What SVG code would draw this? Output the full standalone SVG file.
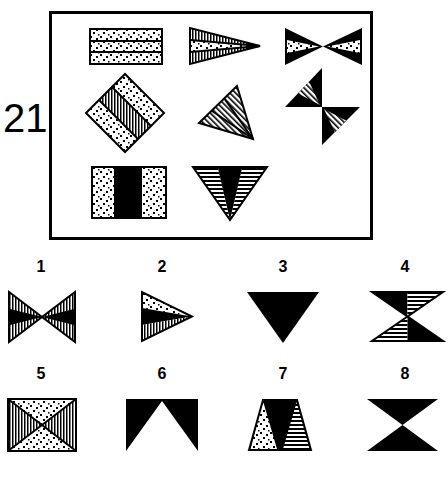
<svg xmlns="http://www.w3.org/2000/svg" width="448" height="480" viewBox="0 0 448 480">
<style>
.o{stroke:#000;stroke-width:2;stroke-linejoin:miter;fill:none}
.k{fill:#000}
.w{fill:#fff}
.d{fill:url(#dots)}
.v{fill:url(#vstr)}
.h{fill:url(#hstr)}
.g{fill:url(#dstr)}
.lbl{font-family:"Liberation Sans",Arial,sans-serif;font-weight:bold;font-size:16px;text-anchor:middle}
</style>
<defs>
<pattern id="dots" width="10" height="9" patternUnits="userSpaceOnUse">
<rect width="10" height="9" fill="#fff"/>
<rect x="0" y="0" width="2" height="2" fill="#000"/>
<rect x="6" y="2" width="2" height="2" fill="#000"/>
<rect x="3" y="5" width="2" height="2" fill="#000"/>
<rect x="8" y="7" width="1.5" height="1.5" fill="#000"/>
</pattern>
<pattern id="vstr" width="3" height="4" patternUnits="userSpaceOnUse">
<rect width="3" height="4" fill="#fff"/>
<rect x="0" y="0" width="1.5" height="4" fill="#000"/>
</pattern>
<pattern id="hstr" width="4" height="4" patternUnits="userSpaceOnUse">
<rect width="4" height="4" fill="#fff"/>
<rect x="0" y="0" width="4" height="2" fill="#000"/>
</pattern>
<pattern id="dstr" width="4" height="4" patternUnits="userSpaceOnUse" patternTransform="rotate(-45)">
<rect width="4" height="4" fill="#fff"/>
<rect x="0" y="0" width="1.6" height="4" fill="#000"/>
</pattern>
</defs>
<rect width="448" height="480" fill="#fff"/>

<g id="title">
<text x="3" y="132" font-family="'Liberation Sans',Arial,sans-serif" font-size="40">21</text>
</g>
<g id="frame">
<rect x="50.5" y="12.5" width="321" height="226" fill="none" stroke="#000" stroke-width="3"/>
</g>

<g id="m11">
<rect x="90" y="29" width="72" height="35" class="d"/>
<rect x="90" y="29" width="72" height="35" class="o"/>
<line x1="90" y1="41" x2="162" y2="41" class="o"/>
<line x1="90" y1="52" x2="162" y2="52" class="o"/>
</g>

<g id="m12">
<polygon points="190,28 190,40 260,46" class="v"/>
<polygon points="190,40 190,52 260,46" class="d"/>
<polygon points="190,52 190,64 260,46" class="v"/>
<polygon points="246,42 246,50 260,46" class="k"/>
<line x1="190" y1="40" x2="260" y2="46" class="o" stroke-width="1"/>
<line x1="190" y1="52" x2="260" y2="46" class="o" stroke-width="1"/>
<polygon points="190,28 190,64 260,46" class="o"/>
</g>

<g id="m13">
<polygon points="285,28 285,65 323,46.5" class="k"/>
<polygon points="362,28 362,65 323,46.5" class="k"/>
<polygon points="287,40 287,53 319,46.5" class="d"/>
<polygon points="360,40 360,53 327,46.5" class="d"/>
</g>

<g id="m21">
<polygon points="125,74 164,113 151,126 112,87" class="d"/>
<polygon points="112,87 151,126 138,139 99,100" class="v"/>
<polygon points="99,100 138,139 125,152 86,113" class="d"/>
<line x1="112" y1="87" x2="151" y2="126" class="o"/>
<line x1="99" y1="100" x2="138" y2="139" class="o"/>
<polygon points="125,74 164,113 125,152 86,113" class="o"/>
</g>

<g id="m22">
<polygon points="237,86 199,123 253,139" class="g"/>
<line x1="253" y1="139" x2="224.3" y2="98.3" class="o" stroke-width="1.5"/>
<line x1="253" y1="139" x2="211.7" y2="110.7" class="o" stroke-width="1.5"/>
<polygon points="237,86 199,123 253,139" class="o"/>
</g>

<g id="m23">
<polygon points="322,68 285,107 322,107" class="k"/>
<polygon points="322,107 360,107 322,145" class="k"/>
<polygon points="309,81.5 298,93.5 320,105" class="g"/>
<polygon points="346,120.5 335,132.5 324,109" class="g"/>
</g>

<g id="m31">
<rect x="92" y="167" width="22" height="51" class="d"/>
<rect x="114" y="167" width="28" height="51" class="k"/>
<rect x="142" y="167" width="24" height="51" class="d"/>
<rect x="92" y="167" width="74" height="51" class="o"/>
</g>

<g id="m32">
<polygon points="193,167 217.7,167 230,220" class="h"/>
<polygon points="242.3,167 267,167 230,220" class="h"/>
<polygon points="217.7,167 242.3,167 230,220" class="k"/>
<polygon points="193,167 267,167 230,220" class="o"/>
</g>

<g id="labels">
<text x="41" y="272" class="lbl">1</text>
<text x="162" y="272" class="lbl">2</text>
<text x="283" y="272" class="lbl">3</text>
<text x="405" y="272" class="lbl">4</text>
<text x="41" y="379" class="lbl">5</text>
<text x="162" y="379" class="lbl">6</text>
<text x="283" y="379" class="lbl">7</text>
<text x="405" y="379" class="lbl">8</text>
</g>

<g id="a1">
<polygon points="9,292 9,342 42,317" class="v"/>
<polygon points="75,292 75,342 42,317" class="v"/>
<polygon points="9,308.7 9,325.3 42,317" class="k"/>
<polygon points="75,308.7 75,325.3 42,317" class="k"/>
<polygon points="9,292 9,342 42,317" class="o"/>
<polygon points="75,292 75,342 42,317" class="o"/>
</g>

<g id="a2">
<polygon points="142,292 142,308 192,316.5" class="d"/>
<polygon points="142,308 142,325 192,316.5" class="k"/>
<polygon points="142,325 142,341 192,316.5" class="v"/>
<polygon points="142,292 142,341 192,316.5" class="o"/>
</g>

<g id="a3">
<polygon points="247,292 319,292 283,343" class="k"/>
</g>

<g id="a4">
<polygon points="372,292 407.5,292 407.5,316.5" class="k"/>
<polygon points="407.5,292 443,292 407.5,316.5" class="h"/>
<polygon points="407.5,316.5 372,341 407.5,341" class="h"/>
<polygon points="407.5,316.5 443,341 407.5,341" class="k"/>
<polygon points="372,292 443,292 407.5,316.5" class="o"/>
<polygon points="407.5,316.5 372,341 443,341" class="o"/>
</g>

<g id="a5">
<polygon points="8,399 8,451 42,425" class="v"/>
<polygon points="76,399 76,451 42,425" class="v"/>
<polygon points="8,399 76,399 42,425" class="d"/>
<polygon points="8,451 76,451 42,425" class="d"/>
<line x1="8" y1="399" x2="76" y2="451" class="o"/>
<line x1="76" y1="399" x2="8" y2="451" class="o"/>
<rect x="8" y="399" width="68" height="52" class="o"/>
</g>

<g id="a6">
<polygon points="126,399 198,399 198,451 162,401 126,451" class="k"/>
</g>

<g id="a7">
<polygon points="263,400 297,400 311,450 249,450" class="k"/>
<polygon points="263,401 250.5,449 277,449" class="d"/>
<polygon points="297,401 283,449 309.5,449" class="h"/>
<polygon points="263,400 297,400 311,450 249,450" class="o"/>
</g>

<g id="a8">
<polygon points="367,399 438,399 402.5,425" class="k"/>
<polygon points="402.5,425 367,451 438,451" class="k"/>
</g>
</svg>
